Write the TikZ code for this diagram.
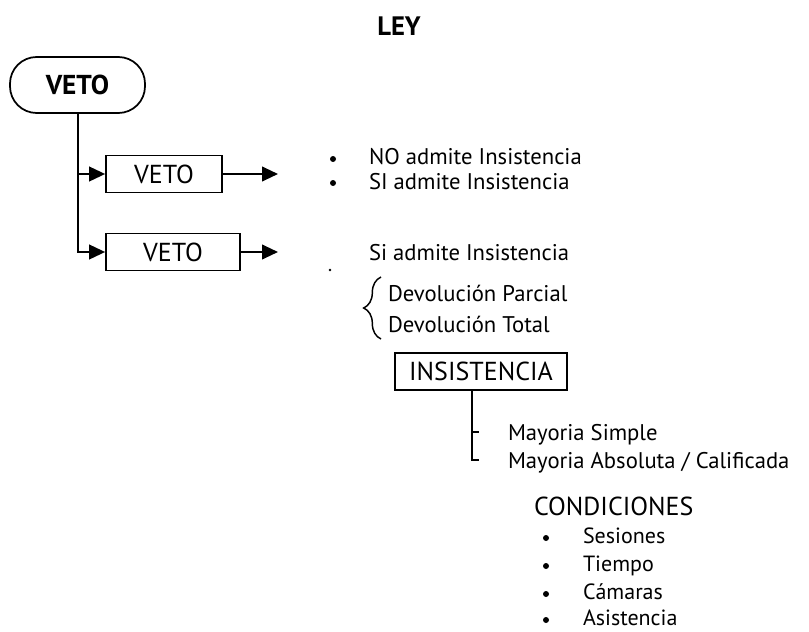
\documentclass[tikz,border=0pt]{standalone}
\usepackage{fontspec}
\setmainfont{PT Sans}
\usetikzlibrary{arrows.meta,decorations.pathreplacing}
\begin{document}
\begin{tikzpicture}[x=0.75pt,y=-0.75pt,line width=1.5pt,
  txt/.style={anchor=west,inner sep=0pt,text height=12pt,text depth=0pt,font=\fontsize{17}{20}\selectfont},
  ctxt/.style={anchor=west,inner sep=0pt,text height=11.6pt,text depth=0pt,font=\fontsize{16.5}{20}\selectfont},
  bul/.style={circle,fill,inner sep=0pt,minimum size=4.5pt},
  vbox/.style={draw,line width=1.3pt,inner sep=0pt,minimum height=27.75pt,font=\fontsize{19.5}{22}\selectfont},
  arr/.style={-{Triangle[length=12pt,width=11pt]}}]
\useasboundingbox (0,0) rectangle (809,631);
\node[font=\fontsize{20}{22}\selectfont\bfseries] (ley) at (399,26) {LEY};
\node[draw,line width=1.3pt,rounded corners=20pt,minimum width=101.25pt,minimum height=42pt,inner sep=0pt,font=\fontsize{20.5}{24}\selectfont\bfseries] (veto) at (77.5,85) {VETO};
\node[vbox,minimum width=87pt] (v1) at (164,174) {VETO};
\node[vbox,minimum width=100.5pt] (v2) at (173,252) {VETO};
\coordinate (e1) at (278,174);
\coordinate (e2) at (278,252);
\draw[arr] (veto.south) |- (v1.west);
\draw[arr] (veto.south) |- (v2.west);
\draw[arr] (v1.east) -- (e1);
\draw[arr] (v2.east) -- (e2);
\node[bul] (b1) at (333,159) {};
\node[bul] (b2) at (333,183) {};
\node[txt] (t1) at (368,157) {NO admite Insistencia};
\node[txt] (t2) at (368,181) {SI admite Insistencia};
\node[txt] (t3) at (368,252) {Si admite Insistencia};
\node[circle,fill,inner sep=0pt,minimum size=2pt] (dot) at (330,270) {};
\coordinate (br1) at (381,339);
\coordinate (br2) at (381,277);
\draw[decorate,decoration={brace,amplitude=13pt,aspect=0.5},line width=1.1pt] (br1) -- (br2);
\node[txt] (d1) at (387,293) {Devolución Parcial};
\node[txt] (d2) at (387,324) {Devolución Total};
\node[vbox,minimum width=129pt] (ins) at (481,371.5) {INSISTENCIA};
\coordinate (m0) at (472,460);
\coordinate (m1) at (479,432);
\coordinate (m2) at (479,460);
\draw[line width=1.1pt] (ins.south -| m0) |- (m2);
\draw[line width=1.1pt] (m0 |- m1) -- (m1);
\node[txt] (s1) at (507,432) {Mayoria Simple};
\node[txt] (s2) at (507,460) {Mayoria Absoluta / Calificada};
\node[ctxt,text height=13.6pt,font=\fontsize{19.5}{22}\selectfont] (c0) at (533,506) {CONDICIONES};
\node[bul] (cb1) at (546,538) {};
\node[bul] (cb2) at (546,566) {};
\node[bul] (cb3) at (546,594) {};
\node[bul] (cb4) at (546,620) {};
\node[ctxt] (c1) at (582,536) {Sesiones};
\node[ctxt] (c2) at (582,564) {Tiempo};
\node[ctxt] (c3) at (582,592) {Cámaras};
\node[ctxt] (c4) at (582,618) {Asistencia};
\end{tikzpicture}
\end{document}
